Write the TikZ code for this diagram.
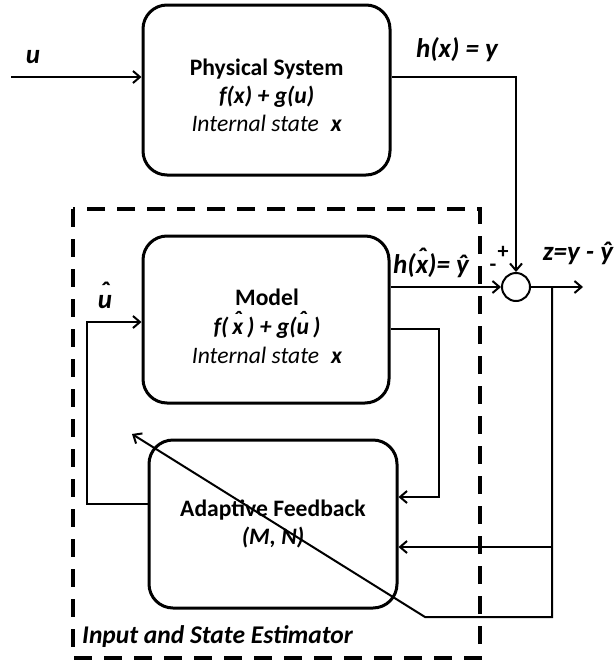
\documentclass[tikz,border=0pt]{standalone}
\usepackage{fontspec}
\setmainfont{Carlito}
\usetikzlibrary{arrows.meta}
\newcommand\hatover[1]{{\leavevmode\ooalign{#1\cr\hidewidth\raisebox{0.6ex}{ˆ}\hidewidth\cr}}}
\begin{document}
\begin{tikzpicture}[x=1pt,y=-1pt,
  blk/.style={draw, line width=3pt, rounded corners=24pt, inner sep=0pt},
  conn/.style={line width=2pt},
  arr/.style={conn, -{Straight Barb[length=7pt,width=12pt,line width=2pt]}},
  boxtxt/.style={font=\fontsize{23.6}{28}\selectfont, align=center, inner sep=0pt},
  lbl/.style={font=\fontsize{27}{30}\selectfont\bfseries\itshape, inner sep=0pt},
  sumstyle/.style={draw, circle, line width=2pt, minimum size=28pt, inner sep=0pt},
  estbox/.style={draw, line width=4pt, dash pattern=on 18pt off 12pt},
]
\useasboundingbox (0,0) rectangle (615,664);

% estimator dashed box
\draw[estbox] (73,209) rectangle (480,658);

% blocks
\node[blk, minimum width=247pt, minimum height=170pt] (phys) at (266.5,90) {};
\node[boxtxt] (physT) at (266.7,95) {\textbf{Physical System}\\\textbf{\textit{f(x) + g(u)}}\\\textit{Internal state}\enspace\textbf{\textit{x}}};

\node[blk, minimum width=246pt, minimum height=167pt] (model) at (266,319.5) {};
\node[boxtxt, font=\fontsize{23.6}{29}\selectfont] (modelT) at (267,326) {\textbf{Model}\\\textbf{\textit{f(\,\hatover{x}\,) + g(\hatover{u}\,)}}\\\textit{Internal state}\enspace\textbf{\textit{x}}};

\node[blk, minimum width=248pt, minimum height=168pt] (af) at (273,524) {};
\node[boxtxt] (afT) at (273,524) {\textbf{Adaptive Feedback}\\\textbf{\textit{(M, N)}}};

\node[sumstyle] (sum) at (516,287) {};

% coordinates
\coordinate (uin) at (11,77);
\coordinate (ycorner) at (516,77);
\coordinate (zend) at (583,287);
\coordinate (tap) at (552,287);
\coordinate (tapbot) at (552,617);
\coordinate (diagstart) at (425,617);
\coordinate (diagend) at (132,434);
\coordinate (tapmid) at (552,547);
\coordinate (mfr) at (439,329);
\coordinate (mfr2) at (439,497);
\coordinate (fbl) at (87,504);
\coordinate (fbl2) at (87,322);

% connectors
\draw[arr] (uin) -- (uin -| phys.west);
\draw[arr] (ycorner -| phys.east) -- (ycorner) -- (sum.north);
\draw[arr] (model.east |- sum) -- (sum.west);
\draw[arr] (sum.east) -- (zend);
\draw[arr] (tap) -- (tapbot) -- (diagstart) -- (diagend);
\draw[arr] (tapmid) -- (tapmid -| af.east);
\draw[arr] (mfr -| model.east) -- (mfr) -- (mfr2) -- (mfr2 -| af.east);
\draw[arr] (fbl -| af.west) -- (fbl) -- (fbl2) -- (fbl2 -| model.west);

% labels
\node[lbl] (lu) at (33,57) {u};
\node[lbl] (lhx) at (457,50) {h(x) = y};
\node[lbl] (lhxh) at (431,266) {h(\hatover{x})= ŷ};
\node[lbl] (lz) at (578,253) {z=y - ŷ};
\node[lbl] (luh) at (105,302) {\hatover{u}};
\node[font=\fontsize{22}{26}\selectfont\bfseries, inner sep=0pt] (lplus) at (503,252) {+};
\node[font=\fontsize{22}{26}\selectfont\bfseries, inner sep=0pt] (lminus) at (493,268) {-};
\node[font=\fontsize{25.5}{30}\selectfont\bfseries\itshape, inner sep=0pt, anchor=west] (lest) at (82,637) {Input and State Estimator};
\end{tikzpicture}
\end{document}
